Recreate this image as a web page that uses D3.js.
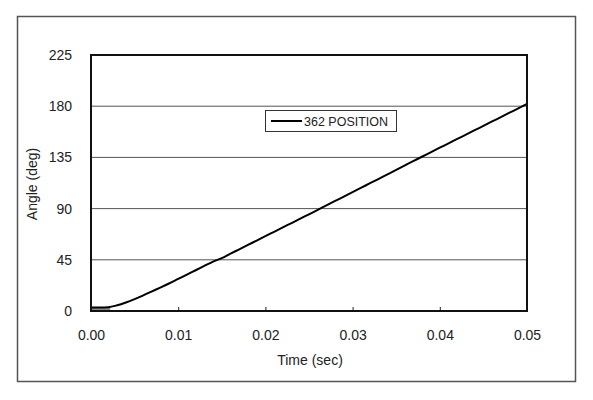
<!DOCTYPE html>
<html><head><meta charset="utf-8">
<script src="https://cdn.jsdelivr.net/npm/d3@7"></script>
<style>body{margin:0;background:#fff}svg{display:block}text{font-family:"Liberation Sans",Arial,sans-serif;fill:#222}</style>
</head><body>
<script>
const times = d3.range(0, 51).map(i => i / 1000);
const angles = [3,3,3.3,5,7.5,10.5,13.8,17.3,20.8,24.4,28.2,32,35.8,39.6,43.4,46.5,50.4,54.2,58.1,61.9,65.8,69.6,73.5,77.3,81.2,85,88.9,92.8,96.7,100.6,104.5,108.4,112.3,116.2,120.1,124,128,131.9,135.8,139.6,143.5,147.3,151.2,155,158.9,162.7,166.6,170.4,174.3,178.1,182];
const baseTimes = [0, 0.0022];
const baseValues = [3, 3];
const xTicks = [0, 0.01, 0.02, 0.03, 0.04, 0.05];
const yTicks = [0, 45, 90, 135, 180, 225];
const seriesName = "362 POSITION";

const W = 593, H = 400;
const svg = d3.select("body").append("svg").attr("width", W).attr("height", H);
svg.append("rect").attr("x", 17.5).attr("y", 16.5).attr("width", 558).attr("height", 365)
  .attr("fill", "#fff").attr("stroke", "#555").attr("stroke-width", 1.5);

const L = 91, R = 527, T = 55, B = 311;
const x = d3.scaleLinear().domain([0, 0.05]).range([L, R]);
const y = d3.scaleLinear().domain([0, 225]).range([B, T]);

// gridlines
svg.append("g").selectAll("line").data(yTicks.filter(v => v > 0 && v < 225)).join("line")
  .attr("x1", L).attr("x2", R).attr("y1", d => y(d)).attr("y2", d => y(d))
  .attr("stroke", "#555").attr("stroke-width", 1);

// y axis labels
const yAxis = d3.axisLeft(y).tickValues(yTicks).tickSize(0).tickPadding(19).tickFormat(d3.format("d"));
const gy = svg.append("g").attr("transform", `translate(${L},0)`).call(yAxis);
gy.select(".domain").remove();
gy.selectAll("text").attr("font-size", 14).attr("font-family", "Liberation Sans, Arial, sans-serif").attr("fill", "#222");

// x axis
const xAxis = d3.axisTop(x).tickValues(xTicks).tickSize(4).tickFormat(d3.format(".2f"));
const gx = svg.append("g").attr("transform", `translate(0,${B})`).call(xAxis);
gx.select(".domain").remove();
gx.selectAll("line").attr("stroke", "#222");
gx.selectAll("text").attr("y", 29).attr("dy", 0).attr("font-size", 14)
  .attr("font-family", "Liberation Sans, Arial, sans-serif").attr("fill", "#222");

// baseline gray area
const baseData = baseTimes.map((t, i) => ({t, v: baseValues[i]}));
svg.append("path").datum(baseData)
  .attr("d", d3.area().x(d => x(d.t)).y0(y(0)).y1(d => y(d.v)))
  .attr("fill", "#888");

// series line
const data = times.map((t, i) => ({t, v: angles[i]}));
svg.append("path").datum(data)
  .attr("d", d3.line().x(d => x(d.t)).y(d => y(d.v)).curve(d3.curveMonotoneX))
  .attr("fill", "none").attr("stroke", "#000").attr("stroke-width", 2);

// plot border
svg.append("rect").attr("x", L).attr("y", T).attr("width", R - L).attr("height", B - T)
  .attr("fill", "none").attr("stroke", "#111").attr("stroke-width", 2);

// legend
const lg = svg.append("g");
lg.append("rect").attr("x", 265.5).attr("y", 110.5).attr("width", 131).attr("height", 21)
  .attr("fill", "#fff").attr("stroke", "#333").attr("stroke-width", 1);
lg.append("line").attr("x1", 271).attr("x2", 302).attr("y1", 121).attr("y2", 121)
  .attr("stroke", "#000").attr("stroke-width", 2);
lg.append("text").attr("x", 304).attr("y", 125.5).attr("font-size", 12.5).text(seriesName);

// axis titles
svg.append("text").attr("x", 310).attr("y", 365).attr("text-anchor", "middle").attr("font-size", 14).text("Time (sec)");
svg.append("text").attr("transform", "translate(37,184) rotate(-90)").attr("text-anchor", "middle").attr("font-size", 14).text("Angle (deg)");
</script>
</body></html>
